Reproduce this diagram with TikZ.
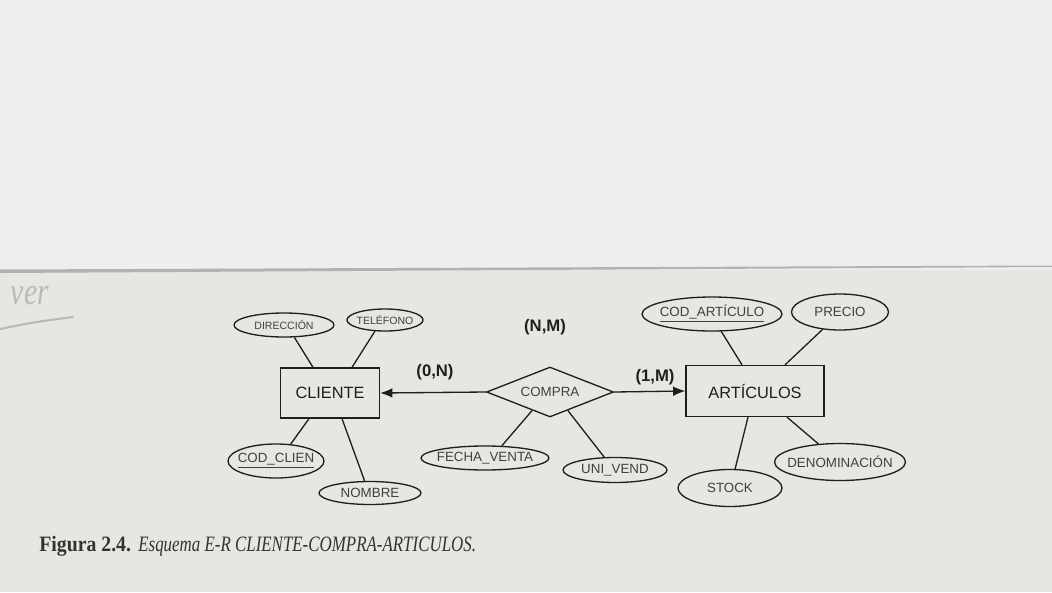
\documentclass[tikz,border=0pt]{standalone}
\usepackage{fontspec}
\setmainfont{Liberation Sans}
\newfontfamily\pie{Liberation Serif}[BoldFeatures={FakeStretch=0.9},ItalicFeatures={FakeStretch=0.77}]
\usetikzlibrary{shapes.geometric,arrows.meta}
\definecolor{hojaarriba}{RGB}{238,238,236}
\definecolor{hojaabajo}{RGB}{230,230,227}
\definecolor{tinta}{RGB}{30,30,30}
\newcommand{\etiq}[1]{\makebox[0pt]{#1}}

\begin{document}
\begin{tikzpicture}[x=0.02cm, y=-0.02cm,
    entidad/.style={draw=tinta, rectangle, line width=0.75pt, inner sep=0pt, text=tinta, font=\fontsize{9.3}{11}\selectfont},
    atributo/.style={draw=tinta, ellipse, line width=0.75pt, inner sep=0pt, text=tinta!85, font=\fontsize{7.6}{9}\selectfont},
    relacion/.style={draw=tinta, diamond, line width=0.75pt, inner sep=0pt, text=tinta!85, font=\fontsize{7.6}{9}\selectfont},
    card/.style={text=tinta, font=\bfseries\fontsize{9.5}{11}\selectfont},
    enlace/.style={draw=tinta, line width=0.75pt}]
    % Fondo de la hoja
    \fill[hojaarriba] (0,0) rectangle (1052,270);
    \fill[hojaabajo] (0,270) rectangle (1052,592);
    \fill[gray!60] (0,269.5) -- (1052,265.5) -- (1052,267) -- (0,273) -- cycle;
    \useasboundingbox (0,0) rectangle (1052,592);

    % Nota a mano
    \node[text=gray!55, font=\pie\itshape\fontsize{22}{24}\selectfont] (nota) at (30,296) {ver};
    \draw[gray!55, line width=1.2pt, line cap=round] (0,329) .. controls (35,322) .. (73,317);

    % Entidades y relacion
    \node[entidad, minimum width=1.98cm, minimum height=1cm] (cli) at (330,393) {CLIENTE};
    \node[entidad, minimum width=2.76cm, minimum height=1.02cm] (art) at (755,391) {ARTÍCULOS};
    \node[relacion, minimum width=2.54cm, minimum height=1cm] (comp) at (550,392) {\etiq{COMPRA}};

    % Atributos de CLIENTE
    \node[atributo, minimum width=2cm, minimum height=0.48cm, font=\fontsize{6}{7}\selectfont] (dir) at (284,325) {\etiq{DIRECCIÓN}};
    \node[atributo, minimum width=1.52cm, minimum height=0.44cm, font=\fontsize{6}{7}\selectfont] (tel) at (385,320) {\etiq{TELÉFONO}};
    \node[atributo, minimum width=1.92cm, minimum height=0.68cm] (codc) at (276,461) {\etiq{\underline{COD\_CLIEN}}};
    \node[atributo, minimum width=2.04cm, minimum height=0.46cm] (nom) at (370,493) {\etiq{NOMBRE}};

    % Atributos de COMPRA
    \node[atributo, minimum width=2.56cm, minimum height=0.48cm] (fv) at (485,458) {\etiq{FECHA\_VENTA}};
    \node[atributo, minimum width=2.08cm, minimum height=0.5cm] (uv) at (615,470) {\etiq{UNI\_VEND}};

    % Atributos de ARTICULOS
    \node[atributo, minimum width=2.8cm, minimum height=0.68cm] (coda) at (712,314) {\etiq{\underline{COD\_ARTÍCULO}}};
    \node[atributo, minimum width=1.94cm, minimum height=0.72cm] (prec) at (840,312) {\etiq{PRECIO}};
    \node[atributo, minimum width=2.08cm, minimum height=0.74cm] (stk) at (730,488) {\etiq{STOCK}};
    \node[atributo, minimum width=2.62cm, minimum height=0.74cm] (den) at (840,462) {\etiq{DENOMINACIÓN}};

    % Enlaces
    \draw[enlace] (dir.-50) -- ([xshift=-0.34cm]cli.north);
    \draw[enlace] (tel.-132) -- ([xshift=0.44cm]cli.north);
    \draw[enlace] (codc.49) -- ([xshift=-0.42cm]cli.south);
    \draw[enlace] (nom.114) -- ([xshift=0.24cm]cli.south);
    \draw[enlace] (fv.36) -- (comp.226);
    \draw[enlace] (uv.130) -- (comp.-46);
    \draw[enlace] (coda.-62) -- ([xshift=-0.26cm]art.north);
    \draw[enlace] (prec.-135) -- ([xshift=0.6cm]art.north);
    \draw[enlace] (stk.75) -- ([xshift=-0.14cm]art.south);
    \draw[enlace] (den.140) -- ([xshift=0.64cm]art.south);
    \draw[enlace, -{Latex[length=7pt,width=5.5pt]}] (comp.west) -- (cli.east);
    \draw[enlace, -{Latex[length=7pt,width=5.5pt]}] (comp.east) -- (art.west);

    % Cardinalidades
    \node[card] (c1) at (435,372) {(0,N)};
    \node[card] (c2) at (545,327) {(N,M)};
    \node[card] (c3) at (655,377) {(1,M)};

    % Pie de figura
    \node[anchor=base west, inner sep=0pt, text=black!80, font=\pie\fontsize{12.5}{14}\selectfont] (pie) at (39,551)
        {\textbf{Figura 2.4.} \textit{Esquema E-R CLIENTE-COMPRA-ARTICULOS.}};
\end{tikzpicture}
\end{document}
